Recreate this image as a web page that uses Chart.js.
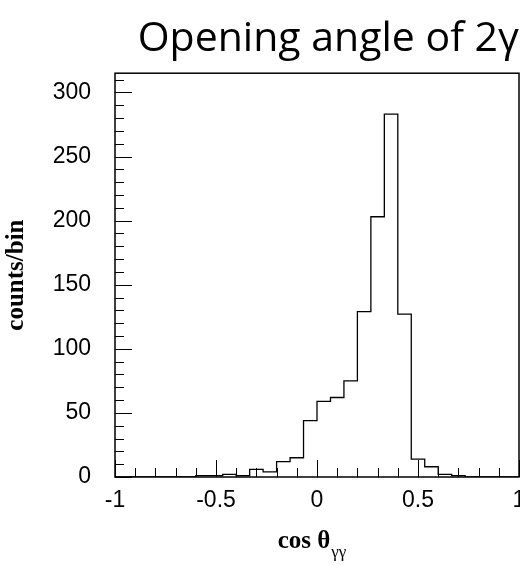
<!DOCTYPE html>
<html>
<head>
<meta charset="UTF-8" />
<title>Opening angle of 2γ</title>
<script src="https://cdn.jsdelivr.net/npm/chart.js"></script>
<style>
  html, body { margin: 0; padding: 0; background: #fff; }
</style>
</head>
<body>
<canvas id="hist" width="520" height="565"></canvas>
<script>
  // 30 bins of width 1/15 between -1 and 1 (31 edges)
  const binEdges = [-1, -0.9333, -0.8667, -0.8, -0.7333, -0.6667, -0.6, -0.5333, -0.4667, -0.4,
    -0.3333, -0.2667, -0.2, -0.1333, -0.0667, 0, 0.0667, 0.1333, 0.2, 0.2667,
    0.3333, 0.4, 0.4667, 0.5333, 0.6, 0.6667, 0.7333, 0.8, 0.8667, 0.9333, 1];
  const counts = [0, 0, 0, 0, 0, 0, 1, 1, 2, 1,
    6, 4, 12, 15, 44, 59, 62, 75, 129, 203,
    283, 127, 14, 8, 2, 1, 0, 0, 0, 0];

  const xMajorTicks = [-1, -0.5, 0, 0.5, 1];
  const xMinorTicks = [-0.9, -0.8, -0.7, -0.6, -0.4, -0.3, -0.2, -0.1, 0.1, 0.2, 0.3, 0.4, 0.6, 0.7, 0.8, 0.9];
  const yMajorTicks = [0, 50, 100, 150, 200, 250, 300];
  const yMinorTicks = [10, 20, 30, 40, 60, 70, 80, 90, 110, 120, 130, 140, 160, 170, 180, 190,
    210, 220, 230, 240, 260, 270, 280, 290, 310];

  const titleText = 'Opening angle of 2γ';
  const yTitle = 'counts/bin';
  const xTitleMain = 'cos θ';
  const xTitleSub = 'γγ';

  // step points: each bin's left edge carries its count, last edge closes at 0
  const points = binEdges.map((x, i) => ({ x: x, y: i < counts.length ? counts[i] : 0 }));

  // frame + ROOT style inner ticks + x title with subscript
  const rootFrame = {
    id: 'rootFrame',
    afterDraw(chart) {
      const ctx = chart.ctx;
      const a = chart.chartArea;
      const xs = chart.scales.x, ys = chart.scales.y;
      ctx.save();
      ctx.strokeStyle = '#000';
      ctx.lineWidth = 1;
      ctx.beginPath();
      xMajorTicks.forEach(v => {
        const px = Math.round(xs.getPixelForValue(v)) + 0.5;
        ctx.moveTo(px, a.bottom); ctx.lineTo(px, a.bottom - 17);
      });
      xMinorTicks.forEach(v => {
        const px = Math.round(xs.getPixelForValue(v)) + 0.5;
        ctx.moveTo(px, a.bottom); ctx.lineTo(px, a.bottom - 9);
      });
      yMajorTicks.forEach(v => {
        const py = Math.round(ys.getPixelForValue(v)) + 0.5;
        ctx.moveTo(a.left, py); ctx.lineTo(a.left + 17, py);
      });
      yMinorTicks.forEach(v => {
        const py = Math.round(ys.getPixelForValue(v)) + 0.5;
        ctx.moveTo(a.left, py); ctx.lineTo(a.left + 9, py);
      });
      ctx.stroke();

      ctx.lineWidth = 1.5;
      ctx.strokeRect(a.left, a.top, a.right - a.left, a.bottom - a.top);

      // x axis title: cos θ with subscript γγ
      const mainFont = 'bold 25px "Liberation Serif", "Times New Roman", serif';
      const subFont = '17px "Liberation Serif", "Times New Roman", serif';
      ctx.fillStyle = '#000';
      ctx.textBaseline = 'alphabetic';
      ctx.textAlign = 'left';
      ctx.font = mainFont;
      const w1 = ctx.measureText(xTitleMain).width;
      ctx.font = subFont;
      const w2 = ctx.measureText(xTitleSub).width;
      const cx = (xs.left + xs.right) / 2 - 5;
      const x0 = cx - (w1 + w2 + 1) / 2;
      const base = xs.top + 71;
      ctx.font = mainFont;
      ctx.fillText(xTitleMain, x0, base);
      ctx.font = subFont;
      ctx.fillText(xTitleSub, x0 + w1 + 1, base + 9);
      ctx.restore();
    }
  };

  new Chart(document.getElementById('hist'), {
    type: 'line',
    data: {
      datasets: [{
        data: points,
        stepped: 'before',
        borderColor: '#000',
        borderWidth: 1.3,
        pointRadius: 0,
        fill: false,
        tension: 0
      }]
    },
    options: {
      responsive: false,
      animation: false,
      layout: { padding: { left: 0, right: 1, top: 0, bottom: 0 } },
      plugins: {
        legend: { display: false },
        tooltip: { enabled: false },
        title: {
          display: true,
          text: titleText,
          align: 'end',
          color: '#000',
          font: { family: '"Open Sans", sans-serif', size: 41, weight: 'normal', lineHeight: 1.2 },
          padding: { top: 15, bottom: 9 }
        }
      },
      scales: {
        x: {
          type: 'linear',
          min: -1,
          max: 1,
          grid: { display: false, drawTicks: false },
          border: { display: false },
          afterBuildTicks: s => { s.ticks = xMajorTicks.map(v => ({ value: v })); },
          afterFit: s => { s.height = 88; s.paddingLeft = 0; s.paddingRight = 0; },
          ticks: {
            color: '#000',
            padding: 10,
            maxRotation: 0,
            font: { family: '"Liberation Sans", Arial, sans-serif', size: 23 },
            callback: v => String(v)
          }
        },
        y: {
          min: 0,
          max: 315,
          grid: { display: false, drawTicks: false },
          border: { display: false },
          afterBuildTicks: s => { s.ticks = yMajorTicks.map(v => ({ value: v })); },
          afterFit: s => { s.width = 115; s.paddingTop = 0; s.paddingBottom = 0; },
          ticks: {
            color: '#000',
            padding: 24,
            font: { family: '"Liberation Sans", Arial, sans-serif', size: 23 },
            callback: v => String(v)
          },
          title: {
            display: true,
            text: yTitle,
            color: '#000',
            padding: { top: 2, bottom: 0 },
            font: { family: '"Liberation Serif", "Times New Roman", serif', size: 25, weight: 'bold', lineHeight: 1.2 }
          }
        }
      }
    },
    plugins: [rootFrame]
  });
</script>
</body>
</html>
